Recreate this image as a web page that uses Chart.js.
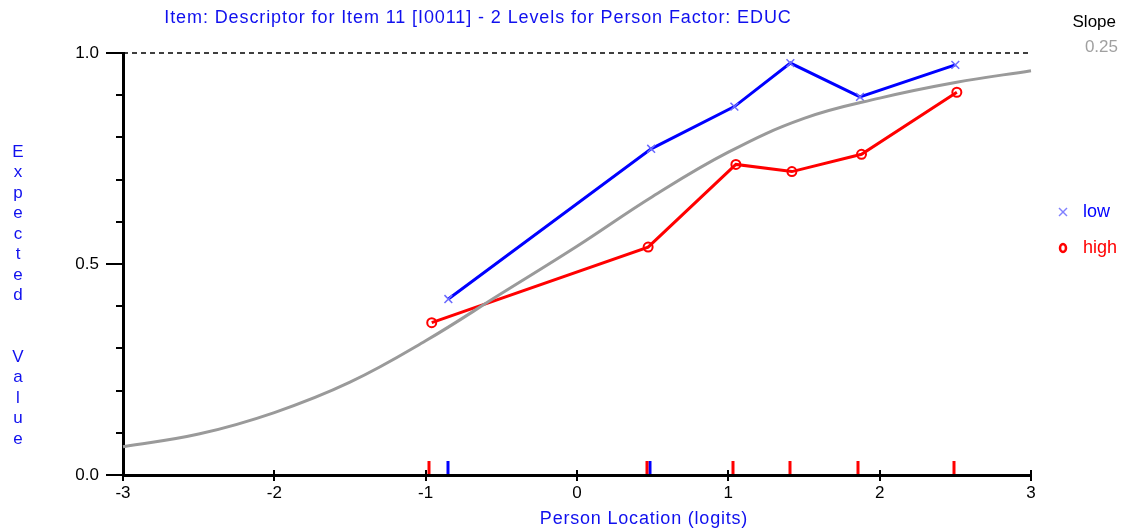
<!DOCTYPE html>
<html>
<head>
<meta charset="utf-8">
<script src="https://cdn.jsdelivr.net/npm/chart.js@4"></script>
<style>
    body { margin: 0; background: #fff; }
</style>
</head>
<body>
<canvas id="grafico" width="1128" height="532"></canvas>
<script>
// dados
const titulo = 'Item: Descriptor for Item 11 [I0011] - 2 Levels for Person Factor: EDUC';
const titulo_x = 'Person Location (logits)';
const titulo_y = 'Expected  Value';
const grupos = ['low', 'high'];
const slope = '0.25';

const curva_x = [-3, -2.5, -2, -1.5, -1, -0.5, 0, 0.5, 1, 1.5, 2, 2.5, 3];
const curva_y = [0.067, 0.097, 0.148, 0.220, 0.318, 0.430, 0.542, 0.660, 0.765, 0.845, 0.893, 0.930, 0.958];

const low_x = [-0.85, 0.49, 1.04, 1.41, 1.87, 2.50];
const low_y = [0.417, 0.773, 0.873, 0.976, 0.896, 0.972];

const high_x = [-0.96, 0.47, 1.05, 1.42, 1.88, 2.51];
const high_y = [0.361, 0.540, 0.736, 0.719, 0.760, 0.907];

const rug_low = [-0.85, 0.48];
const rug_high = [-0.98, 0.46, 1.03, 1.41, 1.86, 2.49];

const fonte = "'Liberation Sans', Arial, sans-serif";

function pontos(xs, ys) {
    return xs.map((x, i) => ({ x: x, y: ys[i] }));
}

function linha(ctx, x1, y1, x2, y2) {
    ctx.beginPath();
    ctx.moveTo(x1, y1);
    ctx.lineTo(x2, y2);
    ctx.stroke();
}

const decoracao = {
    id: 'decoracao',
    afterDraw(chart) {
        const ctx = chart.ctx;
        const sx = chart.scales.x;
        const sy = chart.scales.y;
        ctx.save();

        // marcas do eixo y
        ctx.strokeStyle = '#000';
        ctx.lineWidth = 2;
        for (let i = 0; i <= 10; i++) {
            const py = Math.round(sy.getPixelForValue(i / 10));
            const len = (i % 5 == 0) ? 17 : 7;
            linha(ctx, sx.left - len, py, sx.left, py);
        }
        // marcas do eixo x
        for (let v = -3; v <= 3; v++) {
            const px = Math.round(sx.getPixelForValue(v));
            linha(ctx, px, sy.bottom - 5, px, sy.bottom + 6);
        }

        // rug
        ctx.lineWidth = 3;
        ctx.strokeStyle = '#0000ff';
        rug_low.forEach(v => {
            const px = Math.round(sx.getPixelForValue(v));
            linha(ctx, px, sy.bottom - 14, px, sy.bottom - 1);
        });
        ctx.strokeStyle = '#ff0000';
        rug_high.forEach(v => {
            const px = Math.round(sx.getPixelForValue(v));
            linha(ctx, px, sy.bottom - 14, px, sy.bottom - 1);
        });

        // textos
        ctx.textBaseline = 'middle';
        ctx.fillStyle = '#1010ee';
        ctx.font = '18px ' + fonte;
        ctx.textAlign = 'center';
        ctx.letterSpacing = '0.9px';
        ctx.fillText(titulo, 478, 18);
        ctx.letterSpacing = '0.8px';
        ctx.fillText(titulo_x, 644, 519);
        ctx.letterSpacing = '0px';

        ctx.font = '17px ' + fonte;
        let py = 152;
        for (const c of titulo_y) {
            if (c != ' ') ctx.fillText(c, 18, py);
            py += 20.5;
        }

        ctx.fillStyle = '#000';
        ctx.font = '17px ' + fonte;
        ctx.textAlign = 'right';
        ctx.fillText('Slope', 1116, 22);
        ctx.fillStyle = '#a0a0a0';
        ctx.fillText(slope, 1118, 47);

        // legenda
        ctx.textAlign = 'left';
        ctx.font = '18px ' + fonte;
        ctx.fillStyle = '#0000ff';
        ctx.fillText(grupos[0], 1083, 212);
        ctx.fillStyle = '#ff0000';
        ctx.fillText(grupos[1], 1083, 248);

        ctx.strokeStyle = '#8080ff';
        ctx.lineWidth = 1.5;
        linha(ctx, 1059, 208, 1067, 216);
        linha(ctx, 1059, 216, 1067, 208);
        ctx.strokeStyle = '#ff0000';
        ctx.lineWidth = 2.5;
        ctx.beginPath();
        ctx.ellipse(1063, 248, 3, 4, 0, 0, Math.PI * 2);
        ctx.stroke();

        ctx.restore();
    }
};

new Chart(document.getElementById('grafico'), {
    type: 'scatter',
    data: {
        datasets: [
            {
                label: 'limite',
                data: [{ x: -3, y: 1 }, { x: 3, y: 1 }],
                showLine: true,
                borderColor: '#000',
                borderWidth: 1.5,
                borderDash: [5, 4],
                pointRadius: 0,
                clip: false
            },
            {
                label: 'curva',
                data: pontos(curva_x, curva_y),
                showLine: true,
                borderColor: '#9a9a9a',
                borderWidth: 3,
                tension: 0.4,
                pointRadius: 0,
                clip: false
            },
            {
                label: grupos[1],
                data: pontos(high_x, high_y),
                showLine: true,
                borderColor: '#ff0000',
                borderWidth: 3,
                pointStyle: 'circle',
                pointRadius: 4.5,
                pointBorderWidth: 2,
                pointBorderColor: '#ff0000',
                pointBackgroundColor: 'transparent',
                clip: false
            },
            {
                label: grupos[0],
                data: pontos(low_x, low_y),
                showLine: true,
                borderColor: '#0000ff',
                borderWidth: 3,
                pointStyle: 'crossRot',
                pointRadius: 5.5,
                pointBorderWidth: 1.5,
                pointBorderColor: '#6a6aff',
                clip: false
            }
        ]
    },
    options: {
        responsive: false,
        animation: false,
        layout: {
            padding: { left: 0, top: 53, right: 97, bottom: 0 }
        },
        plugins: {
            legend: { display: false },
            title: { display: false },
            tooltip: { enabled: false }
        },
        scales: {
            x: {
                type: 'linear',
                min: -3,
                max: 3,
                afterFit: s => { s.height = 57; },
                grid: { display: false, drawTicks: false },
                border: { display: true, color: '#000', width: 3 },
                ticks: {
                    stepSize: 1,
                    padding: 8,
                    color: '#000',
                    font: { family: fonte, size: 17 }
                }
            },
            y: {
                type: 'linear',
                min: 0,
                max: 1,
                afterFit: s => { s.width = 123; },
                grid: { display: false, drawTicks: false },
                border: { display: true, color: '#000', width: 3 },
                ticks: {
                    stepSize: 0.1,
                    padding: 24,
                    color: '#000',
                    font: { family: fonte, size: 17 },
                    callback: function (v) {
                        const d = v * 2;
                        if (Math.abs(d - Math.round(d)) < 1e-6) return v.toFixed(1);
                        return '';
                    }
                }
            }
        }
    },
    plugins: [decoracao]
});
</script>
</body>
</html>
